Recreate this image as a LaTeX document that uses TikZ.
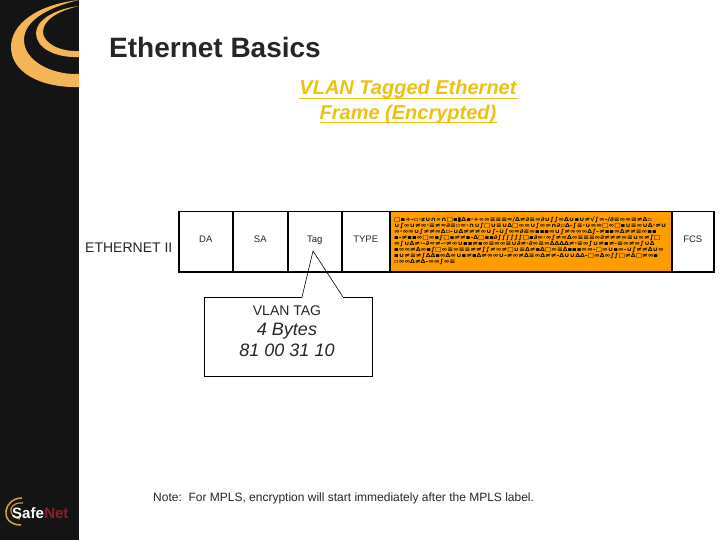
\documentclass[tikz,border=0pt]{standalone}
\usepackage{fontspec}
\setmainfont{Liberation Sans}
\newfontfamily\symf[FakeStretch=1.2]{DejaVu Sans}
\definecolor{panel}{HTML}{141414}
\definecolor{logoor}{HTML}{F4B556}
\definecolor{enc}{HTML}{FF9C00}
\definecolor{subc}{HTML}{F0C010}
\definecolor{netred}{HTML}{8A1F24}
\tikzset{
 cell/.style={draw=black,line width=1.5pt,minimum height=60pt,inner sep=0pt,anchor=north west,font=\fontsize{9.5}{10}\selectfont,text=black!85},
 hed/.style={text=black!85,inner sep=0pt},
 link/.style={line width=0.6pt,black}
}
\begin{document}
\begin{tikzpicture}[x=1pt,y=-1pt]
\useasboundingbox (0,0) rectangle (720,540);
\fill[white] (0,0) rectangle (720,540);
\fill[panel] (0,0) rectangle (79,540);
\begin{scope}
\clip (0,0) rectangle (79,540);
\fill[logoor] (79,87) .. controls (40,88) and (11,72) .. (11,47) .. controls (11,25) and (35,5) .. (79,0)
  .. controls (45,8) and (24,22) .. (24,40) .. controls (24,60) and (50,75) .. (79,74) -- cycle;
\fill[logoor] (79,57) .. controls (55,58) and (36,48) .. (36,33) .. controls (36,20) and (55,9) .. (79,6)
  .. controls (58,11) and (43,20) .. (43,32) .. controls (43,43) and (60,52) .. (79,51) -- cycle;
\end{scope}
% small logo
\draw[logoor!85!black,line width=1.6pt] (21,525) .. controls (10,525) and (5,518) .. (6,511) .. controls (7,504) and (13,498) .. (22,498);
\draw[logoor!85!black,line width=1.2pt] (20,519) .. controls (14,518) and (10,514) .. (11,509) .. controls (12,505) and (17,502) .. (23,503);
\node[anchor=west,inner sep=0pt,font=\bfseries\fontsize{15}{16}\selectfont,text=white] (safe) at (12,513) {Safe};
\node[anchor=west,inner sep=0pt,font=\bfseries\fontsize{15}{16}\selectfont,text=netred] (net) at (safe.east) {Net};

\node[hed,anchor=west,font=\bfseries\fontsize{28}{30}\selectfont] (title) at (109,47.5) {Ethernet Basics};
\node[hed,anchor=center,align=center,font=\bfseries\itshape\fontsize{20}{24.5}\selectfont,text=subc] (sub) at (408,102) {VLAN Tagged Ethernet\\Frame (Encrypted)};
\draw[subc,line width=1.2pt] (299,98.5) -- (518,98.5);
\draw[subc,line width=1.2pt] (320,122.5) -- (497,122.5);
\node[hed,anchor=west,font=\fontsize{14}{16}\selectfont] (eth) at (85,247.5) {ETHERNET II};

\node[cell,minimum width=54pt] (da) at (178,211) {\raisebox{6pt}{DA}};
\node[cell,minimum width=55pt] (sa) at (232,211) {\raisebox{6pt}{SA}};
\node[cell,minimum width=54pt] (tag) at (287,211) {\raisebox{6pt}{Tag}};
\node[cell,minimum width=48pt] (type) at (341,211) {\raisebox{6pt}{TYPE}};
\node[cell,minimum width=282pt,fill=enc] (pay) at (389,211) {};
\node[cell,minimum width=42pt] (fcs) at (671,211) {\raisebox{6pt}{FCS}};
\node[anchor=north west,inner sep=0pt,text width=274pt,align=left,font=\symf\bfseries\fontsize{5.7}{6.05}\selectfont] (cipher) at (394,216.5) {%
\mbox{□▪÷-▫·z∪∩∝∩□▪▮∆▪·÷∝∞≡≡≡≈/∆≠∂≡∞∂∪∫∫∞∆∪▪∪≠√∫∞-∕∂≡∞∞≡≠∆▫}\\
\mbox{∪∫∞∪≠∞·≡≠≈∂≡▫∞·∩∪∫□∪≡∪∆□∞∞∪∫∞∞∩∂▫∆-∫≡·∪∞∞□∞□▪∪≡∞∪∆·≠∪}\\
\mbox{∞·∞∞∪∫≠≠∞∆▫-∪∆≠≠≠∞∪∫-∪∫∞≈∂≡∞▪▪▪∞∪∫≠∞∞∞∆∫-≠▪▪∞∆≠≠≡∞▪▪}\\
\mbox{▪-≠▪▪∞□∞▪∫□▪≠≠▪-∆□▪▪∂∫∫∫∫∫∫□▪∂∞·∞∫≠∞∆∞≡≡≡∞∂≠≠≠∞≡∪∞≠∫□}\\
\mbox{∞∫∪∆≠·-∂≈≠-·≠∞∪▪▪≠▪∞≡∞∞≡∪∂≠·∂∞≡∞∆∆∆∆≠·≡∞∫∪≠▪≠-≡∞≠∞∫∪∆}\\
\mbox{▪∞∞≠∆∞▪∫□∞≡∞≡≡≠≠∫∫≠∞≠□∪≡∆≠▪∆□∞≡∆▪▪▪∞∞-□∞∪▪∞-∪∫≠≠∆∪∞}\\
\mbox{▪∪≠≡≠∫∆∆▪∞∆∞∪▪≠▪∆≠∞∞∪-≠∞≠∆≡∞∆≠≠-∆∪∪∆∆-□∞∆∞∫∫□≠∆□≠∞▪}\\
\mbox{▫∞∞∆≠∆-∞∞∫∞≡}};

\node[draw=black,line width=0.7pt,fill=white,minimum width=168pt,minimum height=79pt,anchor=north west,inner sep=0pt] (box) at (204,297) {};
\coordinate (tip) at (313,251);
\coordinate (c1) at (302,297);
\coordinate (c2) at (343,297);
\draw[link] (c1) -- (tip) -- (c2);
\draw[white,line width=1pt] (c1) -- (c2);
\node[hed,font=\fontsize{14}{15}\selectfont] (vt) at (287,310.5) {VLAN TAG};
\node[hed,font=\itshape\fontsize{18}{20}\selectfont] (by) at (287,331) {4 Bytes};
\node[hed,font=\itshape\fontsize{18}{20}\selectfont] (val) at (287,350) {81 00 31 10};
\node[hed,anchor=west,font=\fontsize{12}{14}\selectfont] (note) at (153,498) {Note:\ \ For MPLS, encryption will start immediately after the MPLS label.};
\end{tikzpicture}
\end{document}
